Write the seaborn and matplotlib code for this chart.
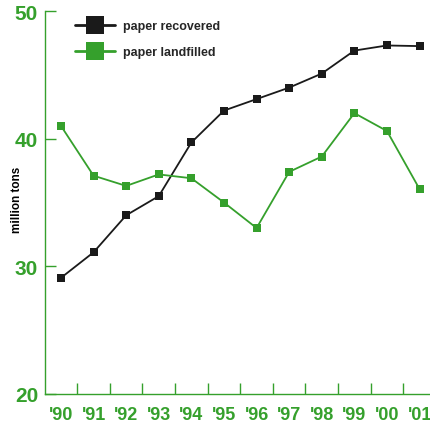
import matplotlib
matplotlib.use("Agg")
import matplotlib.pyplot as plt
from matplotlib.lines import Line2D
from matplotlib.ticker import FixedLocator
import pandas as pd
import seaborn as sns

years = ["'90", "'91", "'92", "'93", "'94", "'95", "'96", "'97", "'98", "'99", "'00", "'01"]
recovered = [29.1, 31.1, 34.0, 35.5, 39.7, 42.2, 43.1, 44.0, 45.1, 46.9, 47.3, 47.25]
landfilled = [41.0, 37.1, 36.3, 37.2, 36.9, 35.0, 33.0, 37.4, 38.6, 42.0, 40.6, 36.05]
series_names = ["paper recovered", "paper landfilled"]

GREEN = "#35a02c"
BLACK = "#1a1a1a"

sns.set_style("white")
plt.rcParams["font.family"] = ["Liberation Sans", "DejaVu Sans"]

df = pd.DataFrame({
    "pos": list(range(len(years))) * 2,
    "value": recovered + landfilled,
    "series": [series_names[0]] * len(years) + [series_names[1]] * len(years),
})

fig = plt.figure(figsize=(4.30, 4.27), dpi=100)
ax = fig.add_axes([45 / 430, 32 / 427, 385 / 430, 383 / 427])

sns.lineplot(data=df, x="pos", y="value", hue="series",
             palette={series_names[0]: BLACK, series_names[1]: GREEN},
             marker="s", markersize=5.5, markeredgewidth=0, linewidth=1.3,
             legend=False, ax=ax)

ax.set_xlim(-0.49, 11.32)
ax.set_ylim(20, 50)

for side in ["top", "right"]:
    ax.spines[side].set_visible(False)
for side in ["left", "bottom"]:
    ax.spines[side].set_color(GREEN)
    ax.spines[side].set_linewidth(1.0)

ax.set_yticks([20, 30, 40, 50])
ax.tick_params(axis="y", left=True, direction="in", length=8, width=1, color=GREEN,
               labelcolor=GREEN, labelsize=15, pad=5)
for lab in ax.get_yticklabels():
    lab.set_fontweight("bold")

# ticks between years, labels at year positions
ax.xaxis.set_major_locator(FixedLocator([i + 0.5 for i in range(len(years) - 1)]))
ax.xaxis.set_minor_locator(FixedLocator(list(range(len(years)))))
ax.set_xticklabels([""] * (len(years) - 1))
ax.set_xticklabels(years, minor=True)
ax.tick_params(axis="x", which="major", bottom=True, direction="in", length=8, width=1, color=GREEN)
ax.tick_params(axis="x", which="minor", bottom=True, length=0, labelcolor=GREEN, labelsize=13, pad=9)
for lab in ax.get_xticklabels(minor=True):
    lab.set_fontweight("bold")

ax.set_xlabel("")
ax.set_ylabel("million tons", fontsize=8.5, fontweight="bold", color="black")
ax.yaxis.set_label_coords(-0.058, 0.51)

handles = [
    Line2D([0], [0], color=BLACK, lw=2, marker="s", markersize=13, markeredgewidth=0),
    Line2D([0], [0], color=GREEN, lw=2, marker="s", markersize=13, markeredgewidth=0),
]
fig.legend(handles, series_names, loc="upper left", bbox_to_anchor=(64 / 430, 1 - 10 / 427),
           frameon=False, handlelength=3.2, handletextpad=0.6, labelspacing=1.1,
           prop={"size": 9, "weight": "bold"})

fig.savefig("out.png", dpi=100)
